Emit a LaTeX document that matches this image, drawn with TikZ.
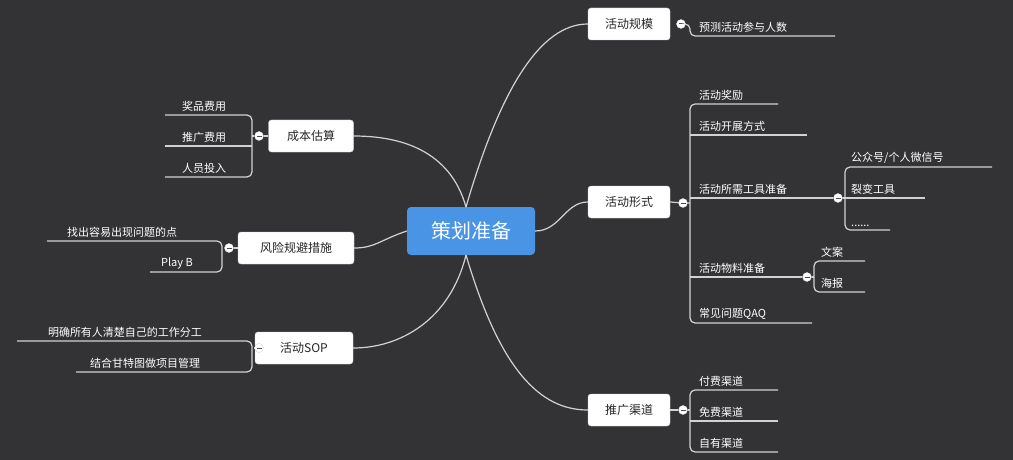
\documentclass[tikz,border=0pt]{standalone}
\usepackage{fontspec}
\setmainfont{Noto Sans CJK SC}
\usetikzlibrary{calc, positioning}

\definecolor{bg}{HTML}{333336}
\definecolor{wire}{HTML}{D2D2D2}
\definecolor{hub}{HTML}{4A94E6}

\begin{document}
\begin{tikzpicture}[
  x=1pt, y=-1pt,
  topic/.style={draw=wire, fill=white, rounded corners=3pt, minimum height=32pt, inner xsep=8pt, font=\fontsize{12}{14}\selectfont, text=black!85},
  hubbox/.style={fill=hub, rounded corners=4pt, minimum width=128pt, minimum height=48pt, font=\fontsize{20}{24}\selectfont, text=white},
  leaf/.style={anchor=south west, inner sep=1pt, font=\fontsize{11}{13}\selectfont, text=white},
  leafl/.style={leaf, anchor=south},
  wirel/.style={draw=wire, line width=1.2pt},
  fold/.style={circle, draw=wire, fill=white, inner sep=0pt, minimum size=9pt,
    path picture={\draw[black!70, line width=1pt] ([xshift=-2.5pt]path picture bounding box.center) -- ([xshift=2.5pt]path picture bounding box.center);}}
]
\useasboundingbox[fill=bg] (0,0) rectangle (1013,460);

% Central topic and main branches
\node[hubbox] (hub) at (471,231) {策划准备};
\node[topic, minimum width=82pt] (scale) at (629,24) {活动规模};
\node[topic, minimum width=82pt] (form) at (629,202) {活动形式};
\node[topic, minimum width=82pt] (promo) at (629,410) {推广渠道};
\node[topic, minimum width=85pt] (cost) at (311,136) {成本估算};
\node[topic, minimum width=116pt] (risk) at (296,248) {风险规避措施};
\node[topic, minimum width=98pt] (sop) at (304,348) {活动SOP};

\draw[wirel] (466,207) .. controls (500,90) and (540,24) .. (scale.west);
\draw[wirel] (hub.east) .. controls (560,231) and (565,202) .. (form.west);
\draw[wirel] (466,255) .. controls (500,370) and (540,410) .. (promo.west);
\draw[wirel] (466,207) .. controls (450,150) and (400,136) .. (cost.east);
\draw[wirel] (hub.west) .. controls (380,240) and (375,248) .. (risk.east);
\draw[wirel] (466,255) .. controls (450,320) and (400,348) .. (sop.east);

% Fold markers
\node[fold] (fscale) at (681,24) {};
\node[fold] (fform) at (683,203) {};
\node[fold] (ftool) at (838,198) {};
\node[fold] (fmat) at (807,277) {};
\node[fold] (fpromo) at (683,410) {};
\node[fold] (fcost) at (259,136) {};
\node[fold] (frisk) at (229,248) {};
\node[fold] (fsop) at (259,348) {};

% 活动规模
\draw[wirel, rounded corners=5pt] (fscale) -- (690,24) -- (690,36) -- (835,36);
\node[leaf] (s1) at (698,34) {预测活动参与人数};

% 活动形式
\draw[wirel, rounded corners=5pt] (778,104) -- (690,104) -- (690,323) -- (812,323);
\draw[wirel] (form.east) -- (fform) -- (690,203);
\draw[wirel] (690,135) -- (807,135);
\draw[wirel] (690,198) -- (ftool) -- (845,198);
\draw[wirel] (690,277) -- (fmat);
\node[leaf] (f1) at (698,102) {活动奖励};
\node[leaf] (f2) at (698,133) {活动开展方式};
\node[leaf] (f3) at (698,196) {活动所需工具准备};
\node[leaf] (f4) at (698,275) {活动物料准备};
\node[leaf] (f5) at (698,321) {常见问题QAQ};

\draw[wirel, rounded corners=5pt] (992,167) -- (845,167) -- (845,230) -- (890,230);
\draw[wirel] (845,198) -- (925,198);
\node[leaf] (t1) at (850,165) {公众号/个人微信号};
\node[leaf] (t2) at (850,196) {裂变工具};
\node[leaf] (t3) at (850,228) {......};

\draw[wirel, rounded corners=5pt] (865,261) -- (814,261) -- (814,292) -- (865,292);
\draw[wirel] (fmat) -- (814,277);
\node[leaf] (m1) at (820,259) {文案};
\node[leaf] (m2) at (820,290) {海报};

% 推广渠道
\draw[wirel, rounded corners=5pt] (778,390) -- (690,390) -- (690,452) -- (778,452);
\draw[wirel] (promo.east) -- (fpromo) -- (690,410);
\draw[wirel] (690,421) -- (778,421);
\node[leaf] (p1) at (698,388) {付费渠道};
\node[leaf] (p2) at (698,419) {免费渠道};
\node[leaf] (p3) at (698,450) {自有渠道};

% 成本估算
\draw[wirel, rounded corners=5pt] (165,115) -- (252,115) -- (252,177) -- (165,177);
\draw[wirel] (cost.west) -- (fcost) -- (252,136);
\draw[wirel] (252,146) -- (165,146);
\node[leafl] (c1) at (204,113) {奖品费用};
\node[leafl] (c2) at (204,144) {推广费用};
\node[leafl] (c3) at (204,175) {人员投入};

% 风险规避措施
\draw[wirel, rounded corners=5pt] (47,241) -- (222,241) -- (222,272) -- (150,272);
\draw[wirel] (risk.west) -- (frisk);
\node[leafl] (r1) at (122,239) {找出容易出现问题的点};
\node[leafl] (r2) at (177,270) {Play B};

% 活动SOP
\draw[wirel, rounded corners=5pt] (17,341) -- (252,341) -- (252,372) -- (76,372);
\draw[wirel] (sop.west) -- (fsop);
\node[leafl] (o1) at (125,339) {明确所有人清楚自己的工作分工};
\node[leafl] (o2) at (145,370) {结合甘特图做项目管理};

\end{tikzpicture}
\end{document}
